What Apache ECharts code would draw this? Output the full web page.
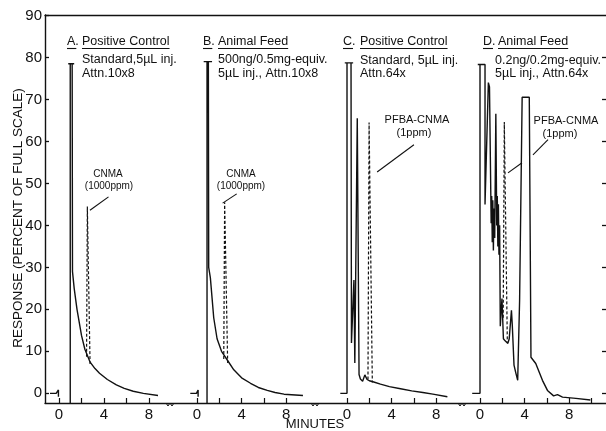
<!DOCTYPE html>
<html>
<head>
<meta charset="utf-8">
<script src="https://cdn.jsdelivr.net/npm/echarts@6/dist/echarts.min.js"></script>
<style>
  html, body { margin: 0; padding: 0; background: #fff; }
  #chart { width: 606px; height: 431px; }
</style>
</head>
<body>
<div id="chart"></div>
<script>
// response in percent of full scale, time in minutes (per panel)
const yTicks = [0, 10, 20, 30, 40, 50, 60, 70, 80, 90];
const rightTicks = [0, 10, 20, 30, 40, 50, 60, 70, 80];
const xLabels = [0, 4, 8];
const xTicks = [0, 2, 4, 6, 8];
const xTicksD = [0, 2, 4, 6, 8, 10];

const aStub = [[-0.8, 0], [-0.25, 0], [-0.05, 0.8], [-0.05, -0.8]];
const aSolid = [[1.0, -3], [1.0, 78.5], [0.82, 78.5], [1.35, 78.5], [1.17, 78.5], [1.2, 29], [1.35, 25], [1.6, 20], [2.0, 13.8], [2.3, 10.5], [2.75, 7.5], [3.2, 5.9], [3.6, 4.8], [4.3, 3.3], [5.1, 2], [5.8, 1.2], [6.6, 0.5], [7.5, 0], [8.8, -0.5]];
const aDashed = [[2.45, 8.7], [2.52, 44.5], [2.65, 44.5], [2.76, 7]];
const aLeader = [[2.75, 43.6], [4.4, 46.8]];

const bStub = [[-0.6, 0], [-0.05, 0], [0.1, 0.8], [0.1, -0.8]];
const bSolid = [[0.9, -3], [0.9, 79], [0.6, 79], [1.35, 79], [1.02, 79], [1.05, 30], [1.2, 27.5], [1.5, 18], [1.8, 13], [2.2, 10], [2.7, 8], [3.3, 5.6], [4.0, 3.7], [4.8, 2.4], [5.5, 1.4], [6.3, 0.7], [7.0, 0.2], [7.8, -0.2], [9.5, -0.5]];
const bDashed = [[2.4, 8.2], [2.48, 45.5], [2.62, 45.5], [2.75, 7.2]];
const bLeader = [[2.3, 45.3], [3.56, 47.5]];

const cSolid = [[-0.6, 0], [0, 0], [0, 78.7], [-0.2, 78.7], [0.55, 78.7], [0.36, 78.7], [0.4, 12], [0.62, 27], [0.7, 7.2], [0.92, 65.5], [1.0, 65.5], [1.08, 4.5], [1.2, 3.4], [1.4, 2.9], [1.6, 4.4], [1.8, 3.3], [2.0, 3], [2.4, 2.7], [3.0, 2.2], [3.8, 1.6], [4.8, 1.1], [5.8, 0.6], [6.8, 0.2], [7.7, -0.2], [9.0, -0.8]];
const cDashed = [[1.88, 3.3], [1.98, 64.5], [2.12, 64.5], [2.27, 2.6]];
const cLeader = [[2.7, 52.7], [6.0, 59.2]];

const dSolid = [[-0.7, 0], [0, 0], [0, 78.3], [-0.2, 78.3], [0.45, 78.3], [0.38, 78.3], [0.45, 45], [0.75, 74], [0.85, 73], [1.0, 40.5], [1.05, 47], [1.1, 36], [1.15, 46], [1.2, 34], [1.25, 44], [1.32, 37], [1.42, 66.6], [1.5, 40], [1.55, 47], [1.6, 35], [1.65, 45], [1.7, 33], [1.76, 40], [1.82, 16], [1.97, 22.6], [2.1, 13], [2.25, 12.5], [2.5, 11.9], [2.62, 13], [2.82, 19.8], [2.9, 16], [3.05, 6.7], [3.2, 5], [3.38, 3.1], [3.55, 22], [3.78, 70.5], [3.65, 70.5], [4.42, 70.5], [4.3, 70.5], [4.57, 8.6], [5.0, 7.1], [5.6, 3.1], [6.05, 0.7], [6.6, -0.6], [6.95, -0.3], [7.4, -0.9], [8.6, -1.2], [9.9, -1.6]];
const dDashed = [[2.08, 18], [2.18, 64.6], [2.3, 64.6], [2.45, 12.3]];
const dLeader1 = [[2.51, 52.5], [3.77, 54.9]];
const dLeader2 = [[4.75, 56.8], [6.1, 60.4]];

const INK = '#111';
const FONT = '"Liberation Sans", Arial, sans-serif';
const Y_MIN = -2.3;
const Y_MAX = 90.1;

// panel layout: left px, width px, x range (min)
const panels = [
  { left: 45, width: 125, min: -1.244, max: 9.867, ticks: xTicks },
  { left: 170, width: 146, min: -2.42, max: 10.67, ticks: xTicks },
  { left: 316, width: 147, min: -2.78, max: 10.40, ticks: xTicks },
  { left: 463, width: 143, min: -1.525, max: 11.30, ticks: xTicksD },
];

const grids = [{ left: 45, top: 15, width: 561, height: 388 }];
panels.forEach(p => grids.push({ left: p.left, top: 15, width: p.width, height: 388 }));

const xAxes = [
  { gridIndex: 0, type: 'value', min: 0, max: 1, position: 'bottom',
    axisLine: { onZero: false, lineStyle: { color: INK, width: 1.4 } },
    axisTick: { show: false }, axisLabel: { show: false }, splitLine: { show: false } },
  { gridIndex: 0, type: 'value', min: 0, max: 1, position: 'top',
    axisLine: { onZero: false, lineStyle: { color: INK, width: 1.4 } },
    axisTick: { show: false }, axisLabel: { show: false }, splitLine: { show: false } },
];
const yAxes = [
  { gridIndex: 0, type: 'value', min: Y_MIN, max: Y_MAX, position: 'left',
    axisLine: { onZero: false, lineStyle: { color: INK, width: 1.4 } },
    axisTick: { inside: true, length: 4, customValues: yTicks, lineStyle: { color: INK, width: 1.3 } },
    axisLabel: { customValues: yTicks, margin: 3, color: INK, fontSize: 15, fontFamily: FONT },
    splitLine: { show: false } },
  { gridIndex: 0, type: 'value', min: Y_MIN, max: Y_MAX, position: 'right',
    axisLine: { show: false, onZero: false },
    axisTick: { show: true, inside: true, length: 4, customValues: rightTicks, lineStyle: { color: INK, width: 1.3 } },
    axisLabel: { show: false }, splitLine: { show: false } },
];
panels.forEach((p, i) => {
  xAxes.push({
    gridIndex: i + 1, type: 'value', min: p.min, max: p.max,
    axisLine: { show: false, onZero: false },
    axisTick: { show: true, inside: true, length: 5, customValues: p.ticks, lineStyle: { color: INK, width: 1.2 } },
    axisLabel: { customValues: xLabels, margin: 4, color: INK, fontSize: 15, fontFamily: FONT },
    splitLine: { show: false },
  });
  yAxes.push({ gridIndex: i + 1, type: 'value', min: Y_MIN, max: Y_MAX, show: false });
});

function trace(data, panel, dashed, width) {
  return {
    type: 'line', data: data, xAxisIndex: panel + 2, yAxisIndex: panel + 2,
    symbol: 'none', silent: true,
    lineStyle: { color: INK, width: width || 1.4, type: dashed ? [3, 2] : 'solid' },
  };
}

const series = [
  trace(aStub, 0), trace(aSolid, 0), trace(aDashed, 0, true, 1.2), trace(aLeader, 0, false, 1.1),
  trace(bStub, 1), trace(bSolid, 1), trace(bDashed, 1, true, 1.2), trace(bLeader, 1, false, 1.1),
  trace(cSolid, 2), trace(cDashed, 2, true, 1.2), trace(cLeader, 2, false, 1.1),
  trace(dSolid, 3), trace(dDashed, 3, true, 1.2), trace(dLeader1, 3, false, 1.1), trace(dLeader2, 3, false, 1.1),
];

const measure = document.createElement('canvas').getContext('2d');
function textWidth(text, size) {
  measure.font = size + 'px ' + FONT;
  return measure.measureText(text).width;
}

function txt(text, x, y, size, align) {
  return { type: 'text', x: x, y: y, silent: true,
    style: { text: text, fill: INK, font: size + 'px ' + FONT, align: align || 'left', verticalAlign: 'middle' } };
}
function seg(x1, y1, x2, y2, w) {
  return { type: 'line', silent: true, shape: { x1: x1, y1: y1, x2: x2, y2: y2 },
    style: { stroke: INK, lineWidth: w || 1 } };
}
// panel heading: letter and title, each underlined
function heading(letter, lx, title, tx) {
  const size = 12.5;
  return [
    txt(letter, lx, 42, size), txt(title, tx, 42, size),
    seg(lx, 48.5, lx + textWidth(letter.charAt(0), size) + 1, 48.5, 1.1),
    seg(tx, 48.5, tx + textWidth(title, size), 48.5, 1.1),
  ];
}
function brk(x) {
  return { type: 'polyline', silent: true,
    shape: { points: [[x - 4, 403], [x - 2, 406], [x, 403], [x + 2, 406], [x + 4, 403]] },
    style: { stroke: INK, lineWidth: 1, fill: null } };
}

const graphic = [].concat(
  heading('A.', 67, 'Positive Control', 82),
  heading('B.', 203, 'Animal Feed', 218),
  heading('C.', 343, 'Positive Control', 360),
  heading('D.', 483, 'Animal Feed', 498),
  [
    txt('Standard,5µL inj.', 82, 60, 12.5),
    txt('Attn.10x8', 82, 74, 12.5),
    txt('500ng/0.5mg-equiv.', 218, 60, 12.5),
    txt('5µL inj., Attn.10x8', 218, 74, 12.5),
    txt('Standard, 5µL inj.', 360, 61, 12.5),
    txt('Attn.64x', 360, 74, 12.5),
    txt('0.2ng/0.2mg-equiv.', 495, 61, 12.5),
    txt('5µL inj., Attn.64x', 495, 74, 12.5),
    txt('CNMA', 108, 174, 10, 'center'),
    txt('(1000ppm)', 109, 186, 10, 'center'),
    txt('CNMA', 241, 174, 10, 'center'),
    txt('(1000ppm)', 241, 186, 10, 'center'),
    txt('PFBA-CNMA', 417, 120, 11, 'center'),
    txt('(1ppm)', 414, 133, 11, 'center'),
    txt('PFBA-CNMA', 566, 121, 11, 'center'),
    txt('(1ppm)', 560, 134, 11, 'center'),
    txt('MINUTES', 315, 424, 13, 'center'),
    { type: 'text', x: 18, y: 218, rotation: Math.PI / 2, silent: true,
      style: { text: 'RESPONSE (PERCENT OF FULL SCALE)', fill: INK, font: '13.5px ' + FONT,
        align: 'center', verticalAlign: 'middle' } },
    brk(170), brk(315), brk(462),
  ]
);

const chart = echarts.init(document.getElementById('chart'), null, { renderer: 'canvas' });
chart.setOption({
  animation: false,
  backgroundColor: '#fff',
  grid: grids,
  xAxis: xAxes,
  yAxis: yAxes,
  series: series,
  graphic: graphic,
});
</script>
</body>
</html>
